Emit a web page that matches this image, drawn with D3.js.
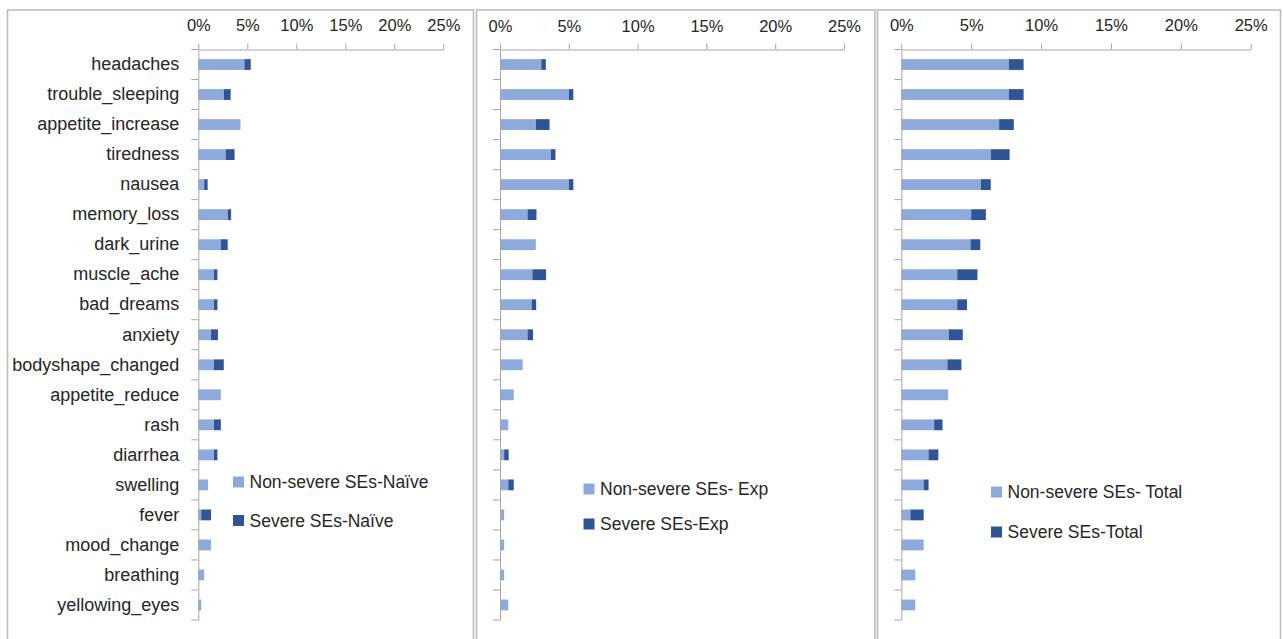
<!DOCTYPE html>
<html>
<head>
<meta charset="utf-8">
<script src="https://cdn.jsdelivr.net/npm/d3@7"></script>
<style>
  html, body { margin: 0; padding: 0; background: #fff; }
  svg { display: block; }
  text { font-family: "Liberation Sans", Arial, sans-serif; fill: #262626; }
</style>
</head>
<body>
<svg id="chart" width="1283" height="639"></svg>
<script>
// Side effects reported, share of patients (%)
const categories = [
  "headaches", "trouble_sleeping", "appetite_increase", "tiredness", "nausea",
  "memory_loss", "dark_urine", "muscle_ache", "bad_dreams", "anxiety",
  "bodyshape_changed", "appetite_reduce", "rash", "diarrhea", "swelling",
  "fever", "mood_change", "breathing", "yellowing_eyes"
];

const naiveNonSevere = [4.7, 2.6, 4.3, 2.8, 0.6, 3.0, 2.3, 1.6, 1.6, 1.3, 1.6, 2.3, 1.6, 1.6, 1.0, 0.3, 1.3, 0.6, 0.3];
const naiveSevere    = [0.65, 0.7, 0.0, 0.9, 0.35, 0.35, 0.7, 0.35, 0.35, 0.7, 1.0, 0.0, 0.7, 0.35, 0.0, 1.0, 0.0, 0.0, 0.0];

const expNonSevere = [3.0, 5.0, 2.6, 3.7, 5.0, 2.0, 2.6, 2.35, 2.3, 2.0, 1.65, 1.0, 0.6, 0.3, 0.6, 0.3, 0.3, 0.3, 0.6];
const expSevere    = [0.33, 0.33, 1.0, 0.33, 0.33, 0.65, 0.0, 1.0, 0.33, 0.4, 0.0, 0.0, 0.0, 0.33, 0.4, 0.0, 0.0, 0.0, 0.0];

const totalNonSevere = [7.7, 7.7, 7.0, 6.4, 5.7, 5.0, 4.95, 4.0, 4.0, 3.4, 3.3, 3.35, 2.35, 1.95, 1.6, 0.65, 1.6, 1.0, 1.0];
const totalSevere    = [1.05, 1.05, 1.05, 1.35, 0.7, 1.05, 0.7, 1.45, 0.7, 1.0, 1.0, 0.0, 0.6, 0.7, 0.35, 0.95, 0.0, 0.0, 0.0];

const tickValues = [0, 5, 10, 15, 20, 25];
const tickLabels = ["0%", "5%", "10%", "15%", "20%", "25%"];

const groups = [
  { nonSevere: naiveNonSevere, severe: naiveSevere,
    legend: ["Non-severe SEs-Naïve", "Severe SEs-Naïve"] },
  { nonSevere: expNonSevere, severe: expSevere,
    legend: ["Non-severe SEs- Exp", "Severe SEs-Exp"] },
  { nonSevere: totalNonSevere, severe: totalSevere,
    legend: ["Non-severe SEs- Total", "Severe SEs-Total"] }
];

// Layout of the three chart boxes
const layout = [
  { box: [7.5, 473.5],   plot: [198.3, 443.3],  tickPad: 13,   labels: true,
    legend: { x: 233, y: [482, 520.5] } },
  { box: [476.5, 875],   plot: [500, 844],      tickPad: 12,   labels: false,
    legend: { x: 583.5, y: [489, 524] } },
  { box: [877.5, 1280.5], plot: [901.3, 1250.7], tickPad: 13,  labels: false,
    legend: { x: 991, y: [492, 532] } }
];

const colors = { nonSevere: "#8eaadc", severe: "#2f5597" };
const axisColor = "#a6a6a6";
const plotTop = 49.5, plotBottom = 620;

const svg = d3.select("#chart");

groups.forEach((g, gi) => {
  const L = layout[gi];
  const root = svg.append("g");

  // chart box
  root.append("rect")
    .attr("x", L.box[0]).attr("y", 10)
    .attr("width", L.box[1] - L.box[0]).attr("height", 660)
    .attr("fill", "#fff")
    .attr("stroke", "#bdbdbd").attr("stroke-width", 1.6);

  const x = d3.scaleLinear().domain([0, 25]).range(L.plot);
  const y = d3.scaleBand().domain(categories)
    .range([plotTop, plotBottom])
    .paddingInner(0.64).paddingOuter(0.32);

  // stacked bars
  const rows = categories.map((c, i) => ({ cat: c, nonSevere: g.nonSevere[i], severe: g.severe[i] }));
  const stack = d3.stack().keys(["nonSevere", "severe"])(rows);

  root.append("g").selectAll("g")
    .data(stack).join("g")
    .attr("fill", s => colors[s.key])
    .selectAll("rect")
    .data(s => s.filter(d => d[1] - d[0] > 0))
    .join("rect")
    .attr("x", d => x(d[0]))
    .attr("width", d => x(d[1]) - x(d[0]))
    .attr("y", d => y(d.data.cat))
    .attr("height", y.bandwidth());

  // value axis along the top
  const xAxis = d3.axisTop(x)
    .tickValues(tickValues)
    .tickFormat((d, i) => tickLabels[i])
    .tickSizeInner(6).tickSizeOuter(0)
    .tickPadding(L.tickPad);
  const xg = root.append("g")
    .attr("transform", `translate(0,${plotTop})`)
    .call(xAxis);
  xg.selectAll("path, line").attr("stroke", axisColor);
  xg.selectAll("text").style("font-size", "16.5px").attr("fill", "#262626")
    .style("font-family", "'Liberation Sans', Arial, sans-serif");

  // category axis
  const yAxis = d3.axisLeft(y)
    .tickSize(0).tickSizeOuter(0)
    .tickPadding(19)
    .tickFormat(L.labels ? (d => d) : () => "");
  const yg = root.append("g")
    .attr("transform", `translate(${x(0)},0)`)
    .call(yAxis);
  yg.select("path").attr("stroke", axisColor);
  yg.selectAll("text").style("font-size", "18px").attr("fill", "#262626")
    .style("font-family", "'Liberation Sans', Arial, sans-serif");

  // tick marks between categories
  const step = y.step();
  const bounds = [plotTop].concat(categories.map(c => y(c) + y.bandwidth() / 2 + step / 2));
  root.append("g").selectAll("line")
    .data(bounds).join("line")
    .attr("x1", x(0) - 7).attr("x2", x(0))
    .attr("y1", d => d).attr("y2", d => d)
    .attr("stroke", axisColor);

  // legend
  const keys = ["nonSevere", "severe"];
  const lg = root.append("g");
  keys.forEach((k, ki) => {
    const cy = L.legend.y[ki];
    lg.append("rect")
      .attr("x", L.legend.x).attr("y", cy - 5.5)
      .attr("width", 11).attr("height", 11)
      .attr("fill", colors[k]);
    lg.append("text")
      .attr("x", L.legend.x + 16.5).attr("y", cy)
      .attr("dy", "0.35em")
      .style("font-size", "17.5px")
      .text(g.legend[ki]);
  });
});
</script>
</body>
</html>
